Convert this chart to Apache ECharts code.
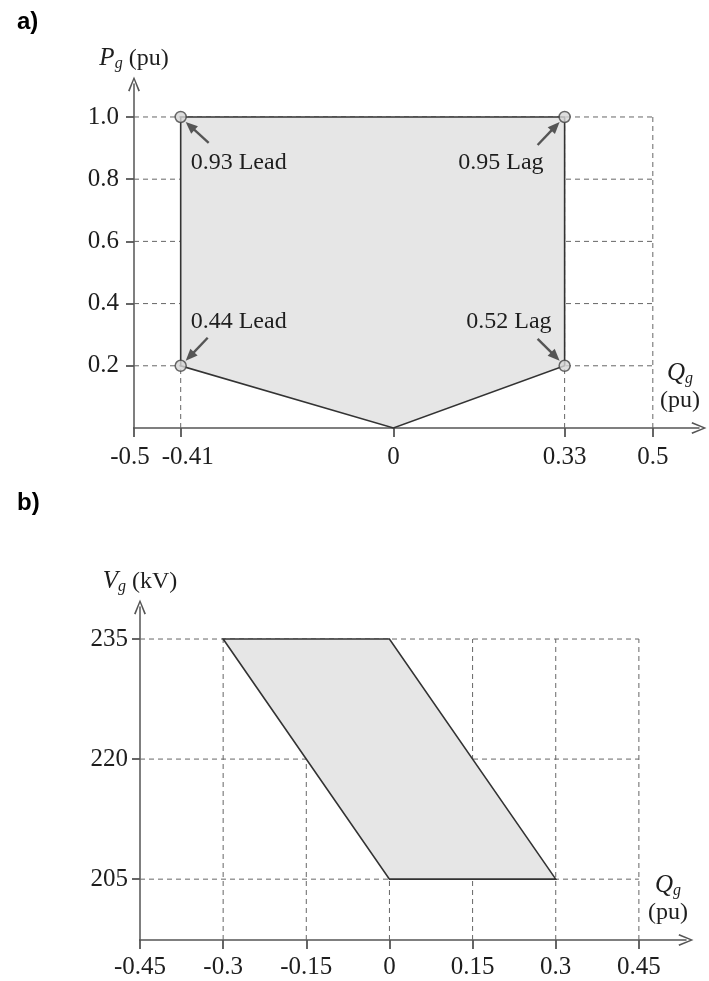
<!DOCTYPE html>
<html>
<head>
<meta charset="utf-8">
<script src="https://cdn.jsdelivr.net/npm/echarts@6/dist/echarts.min.js"></script>
<style>html,body{margin:0;padding:0;background:#fff;}#c{width:709px;height:981px;}</style>
</head>
<body>
<div id="c"></div>
<script>
// ---------- Data: chart a ----------
const xTicksA = [-0.5, -0.41, 0, 0.33, 0.5];
const xTickLabelsA = ['-0.5', '-0.41', '0', '0.33', '0.5'];
const yTicksA = [0.2, 0.4, 0.6, 0.8, 1.0];
const yTickLabelsA = ['0.2', '0.4', '0.6', '0.8', '1.0'];
const gridXA = [-0.41, 0.33, 0.5];            // vertical dashed lines
const polygonA = [[-0.41, 0.2], [-0.41, 1.0], [0.33, 1.0], [0.33, 0.2], [0, 0]];
const cornersA = [[-0.41, 1.0], [0.33, 1.0], [-0.41, 0.2], [0.33, 0.2]];
const cornerLabelsA = ['0.93 Lead', '0.95 Lag', '0.44 Lead', '0.52 Lag'];

// ---------- Data: chart b ----------
const xTicksB = [-0.45, -0.3, -0.15, 0, 0.15, 0.3, 0.45];
const xTickLabelsB = ['-0.45', '-0.3', '-0.15', '0', '0.15', '0.3', '0.45'];
const yTicksB = [205, 220, 235];
const yTickLabelsB = ['205', '220', '235'];
const gridXB = [-0.3, -0.15, 0, 0.15, 0.3, 0.45];
const polygonB = [[-0.3, 235], [0, 235], [0.3, 205], [0, 205]];

// ---------- Styles ----------
const SERIF = 'Liberation Serif';
const AX = '#555';
const TXT = '#1e1e1e';
const DASH = {color: '#666', width: 1, type: [5, 4]};
// pixel offsets of annotation arrows/labels relative to their corner points
const annoStyle = [
  {tail: [28, 26], head: [5, 5], text: [10, 46], align: 'left'},
  {tail: [-27, 28], head: [-5, 5], text: [-21, 46], align: 'right'},
  {tail: [27, -28], head: [5, -5], text: [10, -44], align: 'left'},
  {tail: [-27, -27], head: [-5, -5], text: [-13, -44], align: 'right'}
];
// small horizontal nudges (rich-text padding) for two crowded x labels of chart a
const labelNudgeA = {'-0.5': 'l', '-0.41': 'r'};

const chevron = 'path://M5,0 L10,12 L8.7,12.6 L5,3.0 L1.3,12.6 L0,12 Z';

function nameRich() {
  return {
    fontFamily: SERIF, fontSize: 24, color: TXT,
    rich: {
      i: {fontFamily: SERIF, fontStyle: 'italic', fontSize: 25, color: TXT, lineHeight: 27},
      s: {fontFamily: SERIF, fontStyle: 'italic', fontSize: 16, color: TXT, lineHeight: 16, verticalAlign: 'bottom'},
      t: {fontFamily: SERIF, fontSize: 24, color: TXT, lineHeight: 27}
    }
  };
}

function fmt(ticks, labels, nudge) {
  return v => {
    const k = ticks.findIndex(t => Math.abs(t - v) < 1e-9);
    if (k < 0) return '';
    const s = labels[k];
    return nudge && nudge[s] ? '{' + nudge[s] + '|' + s + '}' : s;
  };
}

function makeX(gi, min, max, ticks, labels, nameGap, margin, nudge) {
  return {
    type: 'value', gridIndex: gi, min: min, max: max,
    name: '{i|Q}{s|g}\n{t|(pu)}', nameLocation: 'end', nameGap: nameGap,
    nameTextStyle: Object.assign(nameRich(), {align: 'center', verticalAlign: 'bottom', padding: [0, 0, 14, 0]}),
    axisLine: {show: true, onZero: false, symbol: ['none', chevron], symbolSize: [13, 15], lineStyle: {color: AX, width: 1.5}},
    axisTick: {show: true, customValues: ticks, length: 9, lineStyle: {color: AX, width: 1.8}},
    axisLabel: {customValues: ticks, margin: margin, fontFamily: SERIF, fontSize: 25, color: TXT, formatter: fmt(ticks, labels, nudge),
      rich: {
        l: {fontFamily: SERIF, fontSize: 25, color: TXT, padding: [0, 8, 0, 0]},
        r: {fontFamily: SERIF, fontSize: 25, color: TXT, padding: [0, 0, 0, 14]}
      }},
    splitLine: {show: false}
  };
}
function makeY(gi, min, max, ticks, labels, name, margin) {
  return {
    type: 'value', gridIndex: gi, min: min, max: max,
    name: name, nameLocation: 'end', nameGap: 12,
    nameTextStyle: Object.assign(nameRich(), {align: 'center'}),
    axisLine: {show: true, onZero: false, symbol: ['none', chevron], symbolSize: [13, 15], lineStyle: {color: AX, width: 1.5}},
    axisTick: {show: true, customValues: ticks, length: 8, lineStyle: {color: AX, width: 1.8}},
    axisLabel: {customValues: ticks, margin: margin, fontFamily: SERIF, fontSize: 25, color: TXT, formatter: fmt(ticks, labels)},
    splitLine: {show: false}
  };
}

function dashedLines(gi, xExt, yExt, xs, ys) {
  const out = [];
  ys.forEach(y => out.push({type: 'line', xAxisIndex: gi, yAxisIndex: gi, data: [[xExt[0], y], [xExt[1], y]],
    symbol: 'none', silent: true, z: 1, lineStyle: DASH, animation: false}));
  xs.forEach(x => out.push({type: 'line', xAxisIndex: gi, yAxisIndex: gi, data: [[x, yExt[0]], [x, yExt[1]]],
    symbol: 'none', silent: true, z: 1, lineStyle: DASH, animation: false}));
  return out;
}

// short stub of the x axis continuing left of the y axis
function axisStub(gi, xmin, ext, y) {
  return {type: 'line', xAxisIndex: gi, yAxisIndex: gi, data: [[xmin - ext, y], [xmin, y]], clip: false,
    symbol: 'none', silent: true, z: 2, lineStyle: {color: AX, width: 1.5}, animation: false};
}

function polySeries(gi, pts) {
  return {
    type: 'custom', xAxisIndex: gi, yAxisIndex: gi, data: pts, z: 3, silent: true, animation: false,
    renderItem: function (params, api) {
      if (params.dataIndex !== 0) return;
      const p = pts.map(q => api.coord(q));
      return {type: 'polygon', shape: {points: p}, style: {fill: '#e6e6e6', stroke: '#333', lineWidth: 1.6}};
    }
  };
}

const annoSeries = {
  type: 'custom', xAxisIndex: 0, yAxisIndex: 0, z: 6, silent: true, animation: false,
  data: cornersA.map((c, i) => [c[0], c[1], i]),
  renderItem: function (params, api) {
    const i = api.value(2);
    const c = api.coord([api.value(0), api.value(1)]);
    const s = annoStyle[i];
    const t = [c[0] + s.tail[0], c[1] + s.tail[1]];
    const h = [c[0] + s.head[0], c[1] + s.head[1]];
    const dx = h[0] - t[0], dy = h[1] - t[1];
    const L = Math.sqrt(dx * dx + dy * dy), ux = dx / L, uy = dy / L;
    const bl = 12, bw = 5;
    const base = [h[0] - ux * bl, h[1] - uy * bl];
    return {
      type: 'group',
      children: [
        {type: 'line', shape: {x1: t[0], y1: t[1], x2: base[0] + ux * 2, y2: base[1] + uy * 2}, style: {stroke: '#555', lineWidth: 2.4}},
        {type: 'polygon', shape: {points: [h, [base[0] - uy * bw, base[1] + ux * bw], [base[0] + uy * bw, base[1] - ux * bw]]}, style: {fill: '#555'}},
        {type: 'text', x: c[0] + s.text[0], y: c[1] + s.text[1],
          style: {text: cornerLabelsA[i], fontFamily: SERIF, fontSize: 24, fill: TXT, align: s.align, verticalAlign: 'middle'}}
      ]
    };
  }
};

const option = {
  animation: false,
  backgroundColor: '#fff',
  title: [
    {text: 'a)', left: 12, top: 5, textStyle: {fontFamily: 'Liberation Sans', fontWeight: 'bold', fontSize: 24, color: '#000'}},
    {text: 'b)', left: 12, top: 486, textStyle: {fontFamily: 'Liberation Sans', fontWeight: 'bold', fontSize: 24, color: '#000'}}
  ],
  grid: [
    {left: 134, right: 10, top: 84, height: 344},
    {left: 140, right: 23, top: 607, height: 333}
  ],
  xAxis: [
    makeX(0, -0.5, 0.589, xTicksA, xTickLabelsA, -19, 17, labelNudgeA),
    makeX(1, -0.45, 0.535, xTicksB, xTickLabelsB, -18, 15)
  ],
  yAxis: [
    makeY(0, 0, 1.106, yTicksA, yTickLabelsA, '{i|P}{s|g}{t| (pu)}', 15),
    makeY(1, 197.4, 239, yTicksB, yTickLabelsB, '{i|V}{s|g}{t| (kV)}', 12)
  ],
  series: [].concat(
    dashedLines(0, [-0.5, 0.5], [0, 1.0], gridXA, yTicksA),
    dashedLines(1, [-0.45, 0.45], [197.4, 235], gridXB, yTicksB),
    [axisStub(0, -0.5, 0.022, 0), axisStub(1, -0.45, 0.018, 197.4),
     polySeries(0, polygonA), polySeries(1, polygonB),
     {type: 'scatter', xAxisIndex: 0, yAxisIndex: 0, data: cornersA, symbol: 'circle', symbolSize: 11, z: 5, silent: true,
      itemStyle: {color: '#d6d6d6', borderColor: '#444', borderWidth: 1.5}},
     annoSeries]
  )
};

const chart = echarts.init(document.getElementById('c'), null, {renderer: 'canvas'});
chart.setOption(option);
</script>
</body>
</html>
